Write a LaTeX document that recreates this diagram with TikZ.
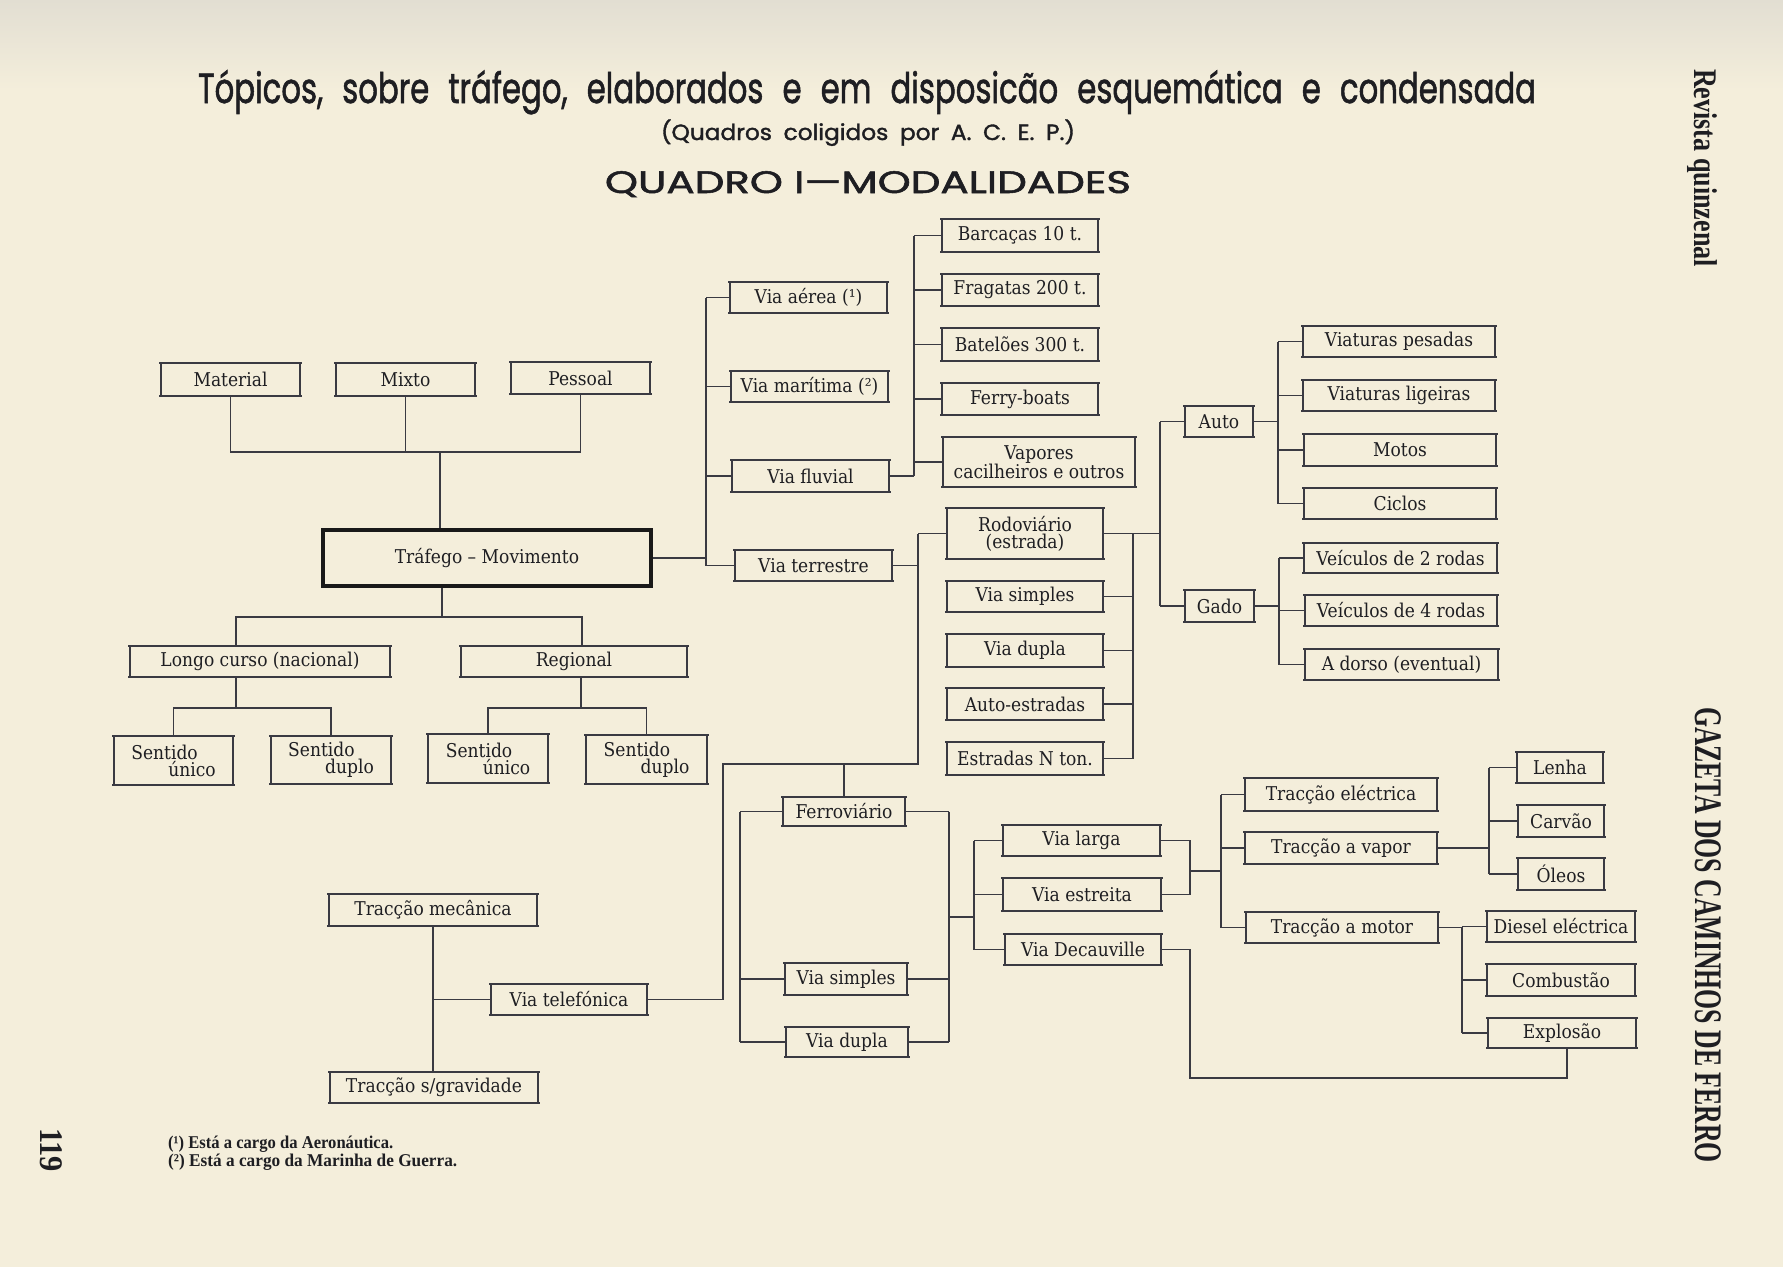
\documentclass[tikz,border=0pt]{standalone}
\usepackage{fontspec}
\usepackage{graphicx}
\newfontfamily\boxfont{DejaVu Serif}[FakeStretch=0.9]
\newfontfamily\titlefont{Poppins}[FakeBold=1.6]
\newfontfamily\notefont{Liberation Serif}
\definecolor{paper}{RGB}{244,238,219}
\definecolor{papertop}{RGB}{226,222,210}
\definecolor{ink}{RGB}{30,30,34}
\definecolor{linec}{RGB}{58,58,66}
\tikzset{
  boxtext/.style={inner sep=0pt, align=center, text=ink, font=\boxfont\fontsize{19}{17}\selectfont},
  boxline/.style={draw=linec, line width=1.6pt},
  conn/.style={draw=linec, line width=1.4pt},
}
\newcommand\mybox[7][]{%
  \node[boxtext, #1, minimum width={(#5-#3)*1pt}, minimum height={(#6-#4)*1pt}] (#2) at ({(#3+#5)/2},{(#4+#6)/2}) {#7};
  \draw[boxline] (#3-2,#4) -- (#5+2,#4) (#3-2,#6) -- (#5+2,#6) (#3,#4) -- (#3,#6) (#5,#4) -- (#5,#6);
}
\begin{document}
\begin{tikzpicture}[x=1pt,y=-1pt]
\useasboundingbox (0,0) rectangle (1783,1267);
\fill[paper] (0,0) rectangle (1783,1267);
\shade[top color=papertop, bottom color=paper] (0,0) rectangle (1783,90);

% titles
\node[anchor=base, inner sep=0pt, text=ink] (title) at (867,103) {\resizebox{1338pt}{\height}{\titlefont\fontsize{42}{42}\selectfont\spaceskip=0.62em\relax Tópicos, sobre tráfego, elaborados e em disposicão esquemática e condensada}};
\node[anchor=base, inner sep=0pt, text=ink] (subtitle) at (868,140) {\resizebox{414pt}{\height}{\titlefont\fontsize{22}{22}\selectfont\spaceskip=0.5em\relax (Quadros coligidos por A. C. E. P.)}};
\node[anchor=base, inner sep=0pt, text=ink] (quadro) at (868,193) {\resizebox{526pt}{\height}{\titlefont\fontsize{31}{31}\selectfont QUADRO I—MODALIDADES}};

% side texts
\node[rotate=-90, inner sep=0pt, text=ink] (rq) at (1702,168) {\resizebox{198pt}{\height}{\notefont\bfseries\fontsize{33}{33}\selectfont Revista quinzenal}};
\node[rotate=-90, inner sep=0pt, text=ink] (gz) at (1708,935) {\resizebox{456pt}{\height}{\notefont\bfseries\fontsize{39}{39}\selectfont GAZETA DOS CAMINHOS DE FERRO}};
\node[rotate=-90, inner sep=0pt, text=ink] (pg) at (51,1150) {\resizebox{44pt}{\height}{\notefont\bfseries\fontsize{33}{33}\selectfont 119}};

% footnotes
\node[anchor=base west, inner sep=0pt, text=ink] (fn1) at (168,1148) {\resizebox{225pt}{\height}{\notefont\bfseries\fontsize{18}{18}\selectfont (¹) Está a cargo da Aeronáutica.}};
\node[anchor=base west, inner sep=0pt, text=ink] (fn2) at (168,1166) {\resizebox{289pt}{\height}{\notefont\bfseries\fontsize{18}{18}\selectfont (²) Está a cargo da Marinha de Guerra.}};

% left part
\mybox{mat}{161}{363}{300}{396}{Material}
\mybox{mix}{336}{363}{475}{396}{Mixto}
\mybox{pes}{511}{362}{650}{394}{Pessoal}
\node[boxtext, minimum width=332pt, minimum height=60pt] (traf) at (487,558) {Tráfego – Movimento};
\draw[line width=4pt, draw=black!90] (323,530) rectangle (651,586);
\mybox{longo}{130}{646}{390}{677}{Longo curso (nacional)}
\mybox{reg}{461}{646}{687}{677}{Regional}
\mybox[align=left]{suA}{114}{736}{233}{785}{Sentido\\\hspace*{37pt}único}
\mybox[align=left]{sdA}{271}{736}{391}{784}{Sentido\\\hspace*{37pt}duplo}
\mybox[align=left]{suB}{428}{734}{548}{783}{Sentido\\\hspace*{37pt}único}
\mybox[align=left]{sdB}{586}{735}{707}{784}{Sentido\\\hspace*{37pt}duplo}

% via
\mybox{aerea}{730}{282}{887}{313}{Via aérea (¹)}
\mybox{marit}{731}{371}{888}{402}{Via marítima (²)}
\mybox{fluv}{732}{460}{889}{492}{Via fluvial}
\mybox{terr}{735}{550}{892}{581}{Via terrestre}

\mybox{barc}{942}{219}{1098}{252}{Barcaças 10 t.}
\mybox{frag}{942}{274}{1098}{306}{Fragatas 200 t.}
\mybox{batel}{942}{328}{1098}{361}{Batelões 300 t.}
\mybox{ferry}{942}{383}{1098}{415}{Ferry-boats}
\mybox{vap}{943}{437}{1135}{487}{Vapores\\cacilheiros e outros}

\mybox{rodo}{947}{508}{1103}{559}{Rodoviário\\(estrada)}
\mybox{vsimR}{947}{581}{1103}{612}{Via simples}
\mybox{vdupR}{947}{634}{1103}{667}{Via dupla}
\mybox{autoe}{947}{688}{1103}{720}{Auto-estradas}
\mybox{estN}{947}{742}{1103}{775}{Estradas N ton.}

\mybox{auto}{1185}{406}{1253}{437}{Auto}
\mybox{gado}{1185}{590}{1254}{622}{Gado}
\mybox{vpes}{1303}{326}{1495}{357}{Viaturas pesadas}
\mybox{vlig}{1303}{380}{1495}{411}{Viaturas ligeiras}
\mybox{motos}{1304}{434}{1496}{466}{Motos}
\mybox{ciclos}{1304}{488}{1496}{519}{Ciclos}
\mybox{veA}{1304}{543}{1497}{573}{Veículos de 2 rodas}
\mybox{veB}{1305}{595}{1497}{626}{Veículos de 4 rodas}
\mybox{dorso}{1305}{649}{1498}{680}{A dorso (eventual)}

\mybox{ferro}{783}{797}{905}{826}{Ferroviário}
\mybox{vsimF}{785}{963}{907}{995}{Via simples}
\mybox{vdupF}{786}{1027}{908}{1057}{Via dupla}

\mybox{vlarga}{1003}{825}{1160}{856}{Via larga}
\mybox{vestr}{1003}{878}{1161}{911}{Via estreita}
\mybox{vdec}{1005}{934}{1161}{965}{Via Decauville}

\mybox{telec}{1245}{778}{1437}{811}{Tracção eléctrica}
\mybox{tvap}{1245}{832}{1437}{864}{Tracção a vapor}
\mybox{tmot}{1246}{912}{1438}{943}{Tracção a motor}

\mybox{lenha}{1517}{752}{1603}{783}{Lenha}
\mybox{carvao}{1518}{805}{1604}{837}{Carvão}
\mybox{oleos}{1518}{858}{1604}{890}{Óleos}
\mybox{diesel}{1487}{911}{1635}{942}{Diesel eléctrica}
\mybox{comb}{1487}{964}{1635}{996}{Combustão}
\mybox{expl}{1488}{1018}{1636}{1048}{Explosão}

\mybox{tmec}{329}{894}{537}{926}{Tracção mecânica}
\mybox{vtel}{491}{984}{647}{1015}{Via telefónica}
\mybox{tgrav}{330}{1072}{538}{1103}{Tracção s/gravidade}

% ---- connectors ----
\coordinate (j1) at (440,452);
\draw[conn] (mat.south) -- (mat.south |- j1) -- (pes.south |- j1) -- (pes.south);
\draw[conn] (mix.south) -- (mix.south |- j1);
\draw[conn] (j1) -- (j1 |- traf.north);

\coordinate (j2) at (442,617);
\coordinate (j2a) at (236,617);
\coordinate (j2b) at (582,617);
\draw[conn] (traf.south -| j2) -- (j2);
\draw[conn] (j2a |- longo.north) -- (j2a) -- (j2b) -- (j2b |- reg.north);
\coordinate (j3) at (236,708);
\draw[conn] (longo.south -| j3) -- (j3);
\draw[conn] (suA.north) -- (suA.north |- j3) -- (sdA.north |- j3) -- (sdA.north);
\coordinate (j4) at (581,708);
\draw[conn] (reg.south -| j4) -- (j4);
\draw[conn] (suB.north) -- (suB.north |- j4) -- (sdB.north |- j4) -- (sdB.north);

\coordinate (c1) at (706,558);
\draw[conn] (traf.east) -- (c1 |- traf.east);
\draw[conn] (c1 |- aerea.west) -- (c1 |- terr.west);
\foreach \n in {aerea,marit,fluv,terr} \draw[conn] (c1 |- \n.west) -- (\n.west);

\coordinate (c2) at (914,0);
\draw[conn] (fluv.east) -- (c2 |- fluv.east);
\draw[conn] (c2 |- barc.west) -- (c2 |- fluv.east);
\foreach \n in {barc,frag,batel,ferry,vap} \draw[conn] (c2 |- \n.west) -- (\n.west);

\coordinate (c3) at (918,764);
\coordinate (c3b) at (723,764);
\draw[conn] (terr.east) -- (c3 |- terr.east);
\draw[conn] (c3 |- rodo.west) -- (c3) -- (c3b) -- (c3b |- vtel.east) -- (vtel.east);
\draw[conn] (c3 |- rodo.west) -- (rodo.west);
\draw[conn] (ferro.north |- c3) -- (ferro.north);

\coordinate (c4) at (1160,0);
\coordinate (c5) at (1133,0);
\draw[conn] (rodo.east) -- (c4 |- rodo.east);
\draw[conn] (c4 |- auto.west) -- (c4 |- gado.west);
\draw[conn] (auto.west) -- (c4 |- auto.west);
\draw[conn] (gado.west) -- (c4 |- gado.west);
\draw[conn] (c5 |- rodo.east) -- (c5 |- estN.east);
\foreach \n in {vsimR,vdupR,autoe,estN} \draw[conn] (\n.east) -- (c5 |- \n.east);

\coordinate (c6) at (1278,0);
\draw[conn] (auto.east) -- (c6 |- auto.east);
\draw[conn] (c6 |- vpes.west) -- (c6 |- ciclos.west);
\foreach \n in {vpes,vlig,motos,ciclos} \draw[conn] (c6 |- \n.west) -- (\n.west);

\coordinate (c7) at (1279,0);
\draw[conn] (gado.east) -- (c7 |- gado.east);
\draw[conn] (c7 |- veA.west) -- (c7 |- dorso.west);
\foreach \n in {veA,veB,dorso} \draw[conn] (c7 |- \n.west) -- (\n.west);

\coordinate (c8) at (740,0);
\draw[conn] (c8 |- ferro.west) -- (c8 |- vdupF.west);
\foreach \n in {ferro,vsimF,vdupF} \draw[conn] (c8 |- \n.west) -- (\n.west);
\coordinate (c9) at (949,0);
\draw[conn] (c9 |- ferro.east) -- (c9 |- vdupF.east);
\foreach \n in {ferro,vsimF,vdupF} \draw[conn] (\n.east) -- (c9 |- \n.east);

\coordinate (c10) at (974,917);
\draw[conn] (c9 |- c10) -- (c10);
\draw[conn] (c10 |- vlarga.west) -- (c10 |- vdec.west);
\foreach \n in {vlarga,vestr,vdec} \draw[conn] (c10 |- \n.west) -- (\n.west);

\coordinate (c11) at (1190,871);
\coordinate (c12) at (1221,871);
\draw[conn] (vlarga.east) -- (c11 |- vlarga.east) -- (c11 |- vestr.east) -- (vestr.east);
\draw[conn] (c11) -- (c12);
\draw[conn] (c12 |- telec.west) -- (c12 |- tmot.west);
\foreach \n in {telec,tvap,tmot} \draw[conn] (c12 |- \n.west) -- (\n.west);

\coordinate (c13) at (1567,1078);
\draw[conn] (vdec.east) -- (c11 |- vdec.east) -- (c11 |- c13) -- (c13) -- (c13 |- expl.south);

\coordinate (c14) at (1489,0);
\draw[conn] (tvap.east) -- (c14 |- tvap.east);
\draw[conn] (c14 |- lenha.west) -- (c14 |- oleos.west);
\foreach \n in {lenha,carvao,oleos} \draw[conn] (c14 |- \n.west) -- (\n.west);

\coordinate (c15) at (1462,0);
\draw[conn] (tmot.east) -- (c15 |- tmot.east);
\draw[conn] (c15 |- diesel.west) -- (c15 |- expl.west);
\foreach \n in {diesel,comb,expl} \draw[conn] (c15 |- \n.west) -- (\n.west);

\draw[conn] (tmec.south) -- (tmec.south |- tgrav.north);
\draw[conn] (tmec.south |- vtel.west) -- (vtel.west);
\end{tikzpicture}
\end{document}
